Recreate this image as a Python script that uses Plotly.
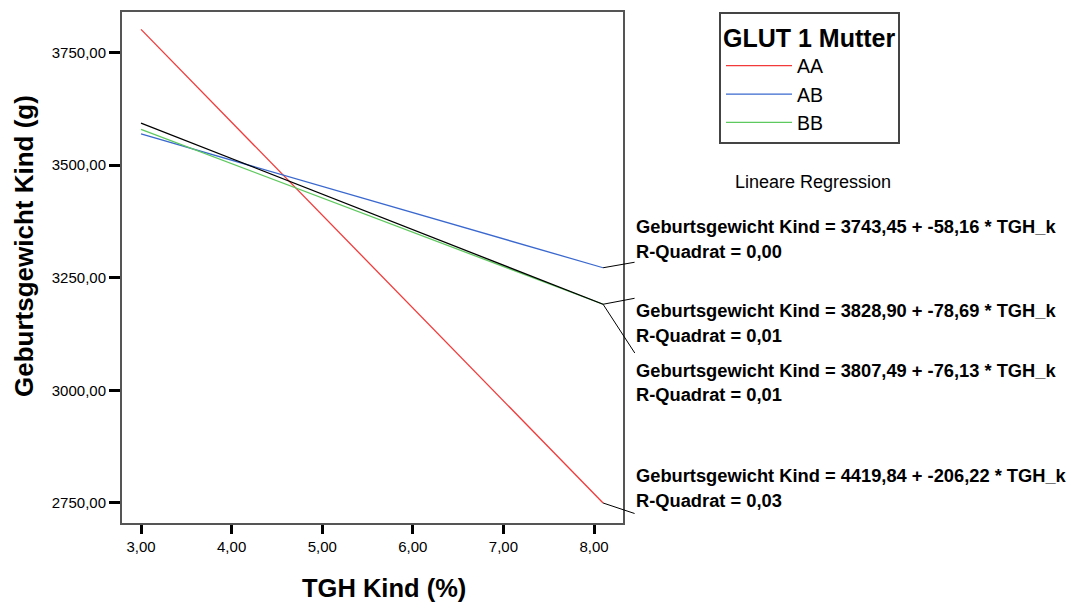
import plotly.graph_objects as go

# ---- data ----
groups = ["AA", "AB", "BB"]
colors = ["#f23a3a", "#3a68cf", "#5ec95e"]
x_start = [3.00, 3.00, 3.00]
x_end = [8.10, 8.10, 8.10]
y_start = [3801.0, 3569.0, 3579.0]
y_end = [2750.0, 3272.0, 3191.0]

total_x = [3.00, 8.10]
total_y = [3593.0, 3191.0]

# regression labels (order as in the picture, top to bottom)
eq_intercepts = ["3743,45", "3828,90", "3807,49", "4419,84"]
eq_slopes = ["-58,16", "-78,69", "-76,13", "-206,22"]
eq_r2 = ["0,00", "0,01", "0,01", "0,03"]
eq_anchor_x = [8.10, 8.10, 8.10, 8.10]
eq_anchor_y = [3272.0, 3191.0, 3191.0, 2750.0]

x_ticks = [3, 4, 5, 6, 7, 8]
y_ticks = [2750, 3000, 3250, 3500, 3750]

x_title = "TGH Kind (%)"
y_title = "Geburtsgewicht Kind (g)"
legend_title = "GLUT 1 Mutter"

FONT = "Liberation Sans, Arial, Helvetica, sans-serif"

# the page body has an 8px margin: compensate so the plot lands where wanted
OX, OY = 8, 8
WIN_W, WIN_H = 1077, 603
# plot-area geometry in window pixels
L, T, W, H = 122, 12, 501, 511
Y0, Y1 = 2705.6, 3839.5


def px(xp):
    return (xp - L) / W


def py(yp):
    return (T + H - yp) / H


fig = go.Figure()
for g, c, xs, xe, ys, ye in zip(groups, colors, x_start, x_end, y_start, y_end):
    fig.add_trace(go.Scatter(x=[xs, xe], y=[ys, ye], mode="lines", name=g,
                             line=dict(color=c, width=1.3)))
fig.add_trace(go.Scatter(x=total_x, y=total_y, mode="lines", name="Insgesamt",
                         showlegend=False, line=dict(color="black", width=1.3)))

annotations = []
label_x = 634
label_y1 = [226.5, 310, 370.5, 475]
label_y2 = [251.5, 335.5, 394.5, 500]
conn_end_y = [262, 298, 355, 514]
EQ_SIZE = 18.3

for i in range(4):
    annotations.append(dict(
        xref="paper", yref="paper", x=px(label_x), y=py(label_y1[i]),
        xanchor="left", yanchor="middle", showarrow=False,
        text="<b>Geburtsgewicht Kind = %s + %s * TGH_k</b>" % (eq_intercepts[i], eq_slopes[i]),
        font=dict(family=FONT, size=EQ_SIZE, color="black")))
    annotations.append(dict(
        xref="paper", yref="paper", x=px(label_x), y=py(label_y2[i]),
        xanchor="left", yanchor="middle", showarrow=False,
        text="<b>R-Quadrat = %s</b>" % eq_r2[i],
        font=dict(family=FONT, size=EQ_SIZE, color="black")))

# leader lines from line ends to labels
for i in range(4):
    anchor_py = T + H - (eq_anchor_y[i] - Y0) / (Y1 - Y0) * H
    annotations.append(dict(
        xref="x", yref="y", x=eq_anchor_x[i], y=eq_anchor_y[i],
        ax=33, ay=conn_end_y[i] - anchor_py,
        axref="pixel", ayref="pixel",
        text=" ", font=dict(size=1), showarrow=True, arrowhead=0,
        arrowwidth=1, arrowcolor="black", standoff=0, startstandoff=0))

annotations.append(dict(
    xref="paper", yref="paper", x=px(813), y=py(182), xanchor="center", yanchor="middle",
    showarrow=False, text="Lineare Regression",
    font=dict(family=FONT, size=18, color="black")))

# axis titles (placed as in the reference, slightly off-centre)
annotations.append(dict(
    xref="paper", yref="paper", x=px(383.5), y=py(588), xanchor="center", yanchor="middle",
    showarrow=False, text="<b>%s</b>" % x_title,
    font=dict(family=FONT, size=25.5, color="black")))
annotations.append(dict(
    xref="paper", yref="paper", x=px(24), y=py(246), xanchor="center", yanchor="middle",
    showarrow=False, textangle=-90, text="<b>%s</b>" % y_title,
    font=dict(family=FONT, size=26, color="black")))

fig.update_layout(
    width=WIN_W - OX, height=WIN_H - OY,
    margin=dict(l=L - OX, r=WIN_W - L - W, t=T - OY, b=WIN_H - T - H, autoexpand=False),
    paper_bgcolor="white", plot_bgcolor="white",
    separators=",.",
    font=dict(family=FONT, color="black"),
    showlegend=True,
    legend=dict(
        x=px(719), y=1.0, xanchor="left", yanchor="top",
        bgcolor="white", bordercolor="#444", borderwidth=2,
        title=dict(text="<b>%s</b>" % legend_title, side="top",
                   font=dict(family=FONT, size=25, color="black")),
        font=dict(family=FONT, size=19.5, color="black"),
        itemwidth=66, tracegroupgap=0,
    ),
    annotations=annotations,
)

fig.update_xaxes(
    range=[2.79, 8.32], tickvals=x_ticks, tickformat=".2f",
    showgrid=False, zeroline=False,
    showline=True, mirror=True, linecolor="#555", linewidth=2,
    ticks="outside", ticklen=9, tickwidth=3, tickcolor="black",
    tickfont=dict(family=FONT, size=15, color="black"),
)
fig.update_yaxes(
    range=[Y0, Y1], tickvals=y_ticks, tickformat=".2f",
    showgrid=False, zeroline=False,
    showline=True, mirror=True, linecolor="#555", linewidth=2,
    ticks="outside", ticklen=11, tickwidth=3, tickcolor="black",
    tickfont=dict(family=FONT, size=15, color="black"),
)

fig.write_html("out.html")
